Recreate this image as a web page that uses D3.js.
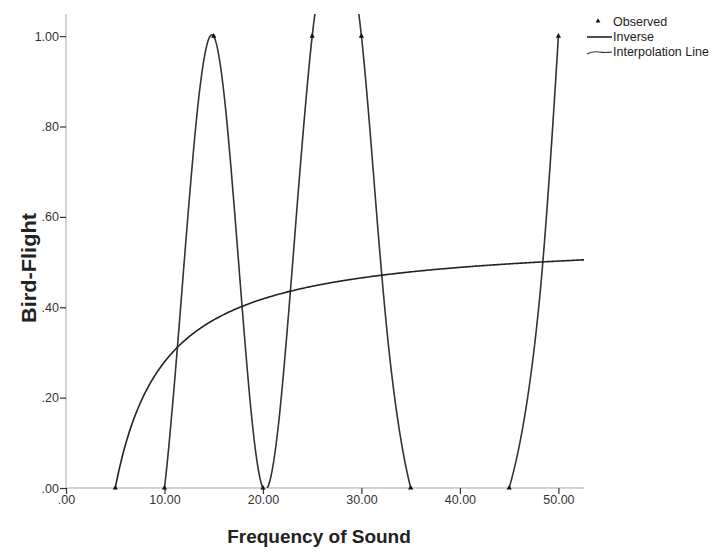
<!DOCTYPE html>
<html>
<head>
<meta charset="utf-8">
<script src="https://cdn.jsdelivr.net/npm/d3@7"></script>
<style>
  body { margin: 0; background: #fff; }
  svg { font-family: "Liberation Sans", Arial, sans-serif; }
</style>
</head>
<body>
<svg id="chart"></svg>
<script>
const freq = [5, 10, 15, 20, 25, 30, 35, 45, 50];
const flight = [0, 0, 1, 0, 1, 1, 0, 0, 1];
// Inverse fit: y = b0 + b1 / x
const inverseB0 = 0.558;
const inverseB1 = -2.79;
const xTicks = [0, 10, 20, 30, 40, 50];
const yTicks = [0, 0.2, 0.4, 0.6, 0.8, 1.0];
const legendItems = ['Observed', 'Inverse', 'Interpolation Line'];

const W = 712, H = 552;
const margin = { top: 14, right: 128, bottom: 64, left: 66 };
const width = W - margin.left - margin.right;
const height = H - margin.top - margin.bottom;

const svg = d3.select('#chart').attr('width', W).attr('height', H);
const g = svg.append('g').attr('transform', `translate(${margin.left}, ${margin.top})`);

const x = d3.scaleLinear().domain([0, 52.6]).range([0, width]);
const y = d3.scaleLinear().domain([0, 1.049]).range([height, 0]);

// clip to plot area
svg.append('defs').append('clipPath').attr('id', 'plot-clip')
  .append('rect').attr('x', 0).attr('y', 0).attr('width', width).attr('height', height);

// axis lines (light grey)
g.append('line').attr('x1', 0).attr('x2', 0).attr('y1', 0).attr('y2', height)
  .attr('stroke', '#d4d4d4').attr('stroke-width', 2);
g.append('line').attr('x1', 0).attr('x2', width).attr('y1', height).attr('y2', height)
  .attr('stroke', '#d4d4d4').attr('stroke-width', 2);

// y ticks
const fmt = v => d3.format('.2f')(v).replace(/^0\./, '.');
const yAxis = g.append('g').call(d3.axisLeft(y).tickValues(yTicks).tickFormat(fmt).tickSize(6).tickPadding(1));
yAxis.select('.domain').remove();
yAxis.selectAll('.tick line').attr('stroke', '#333').attr('stroke-width', 1.2);
yAxis.selectAll('.tick text').attr('fill', '#333').style('font-size', '12.5px');

// x ticks
const xAxis = g.append('g').attr('transform', `translate(0, ${height})`)
  .call(d3.axisBottom(x).tickValues(xTicks).tickFormat(fmt).tickSize(6).tickPadding(1));
xAxis.select('.domain').remove();
xAxis.selectAll('.tick line').attr('stroke', '#333').attr('stroke-width', 1.2);
xAxis.selectAll('.tick text').attr('fill', '#333').style('font-size', '12.5px');

const plot = g.append('g').attr('clip-path', 'url(#plot-clip)');

// interpolation line
const points = freq.map((f, i) => ({ x: f, y: flight[i] }));
plot.append('path')
  .datum(points)
  .attr('fill', 'none')
  .attr('stroke', '#333')
  .attr('stroke-width', 1.6)
  .attr('d', d3.line().x(d => x(d.x)).y(d => y(d.y)).curve(d3.curveNatural));

// inverse fit curve
const fitX = d3.range(5, 52.61, 0.1);
plot.append('path')
  .datum(fitX)
  .attr('fill', 'none')
  .attr('stroke', '#222')
  .attr('stroke-width', 1.6)
  .attr('d', d3.line().x(d => x(d)).y(d => y(inverseB0 + inverseB1 / d)));

// observed markers
const tri = d3.symbol().type(d3.symbolTriangle).size(12);
g.selectAll('.obs')
  .data(points)
  .join('path')
  .attr('class', 'obs')
  .attr('transform', d => `translate(${x(d.x)}, ${y(d.y)})`)
  .attr('d', tri)
  .attr('fill', '#111');

// axis titles
g.append('text')
  .attr('x', width / 2 - 6)
  .attr('y', height + 55)
  .attr('text-anchor', 'middle')
  .style('font-size', '19px')
  .style('font-weight', 'bold')
  .attr('fill', '#222')
  .text('Frequency of Sound');

g.append('text')
  .attr('transform', 'rotate(-90)')
  .attr('x', -254)
  .attr('y', -30)
  .attr('text-anchor', 'middle')
  .attr('textLength', 110)
  .attr('lengthAdjust', 'spacingAndGlyphs')
  .style('font-size', '20px')
  .style('font-weight', 'bold')
  .attr('fill', '#222')
  .text('Bird-Flight');

// legend
const legend = svg.append('g').attr('transform', 'translate(587, 22)');
legendItems.forEach((name, i) => {
  const ly = i * 15;
  if (i === 0) {
    legend.append('path').attr('transform', `translate(11, ${ly - 1})`)
      .attr('d', d3.symbol().type(d3.symbolTriangle).size(10)).attr('fill', '#111');
  } else if (i === 1) {
    legend.append('line').attr('x1', 0).attr('x2', 25).attr('y1', ly).attr('y2', ly)
      .attr('stroke', '#222').attr('stroke-width', 1.6);
  } else {
    legend.append('path').attr('d', `M0,${ly + 2} Q6,${ly - 1} 12,${ly} T25,${ly}`)
      .attr('fill', 'none').attr('stroke', '#333').attr('stroke-width', 1.2);
  }
  legend.append('text')
    .attr('x', 26)
    .attr('y', ly + 4)
    .style('font-size', '12.5px')
    .attr('fill', '#222')
    .text(name);
});
</script>
</body>
</html>
